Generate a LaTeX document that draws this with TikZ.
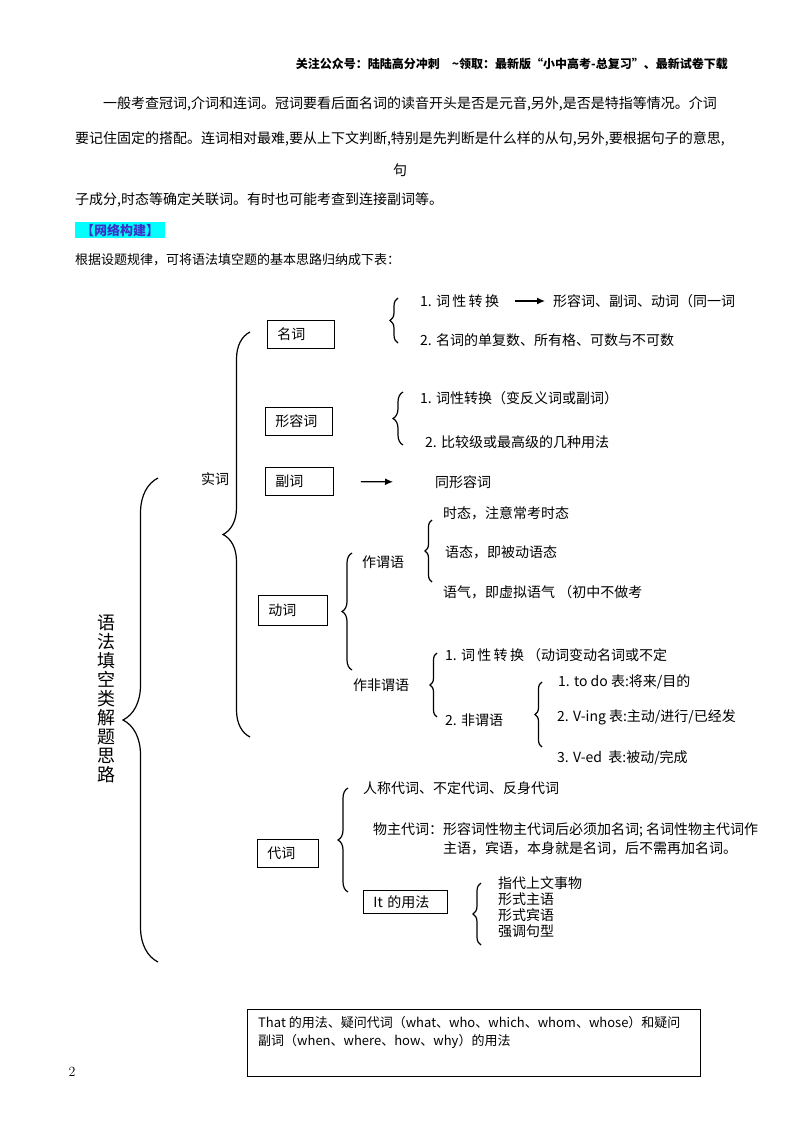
\documentclass[tikz,border=0pt]{standalone}
\usepackage{fontspec}
\usepackage{xcolor}
\newfontfamily\cjk{Noto Sans CJK SC}
\usetikzlibrary{positioning,arrows.meta,decorations.pathreplacing}
\definecolor{netblue}{RGB}{60,50,200}
\definecolor{netcyan}{RGB}{0,255,255}
\tikzset{
  wbox/.style={draw, line width=0.9pt, anchor=north west, inner xsep=10pt,
    minimum height=28pt, align=left},
  brc/.style={decorate, decoration={brace, amplitude=#1}, line width=1.2pt},
  brc/.default=8pt,
  item/.style={anchor=west, inner sep=0pt},
  arr/.style={-{Latex[length=8pt,width=7pt]}, line width=1.2pt},
}

\begin{document}
\begin{tikzpicture}[x=1pt, y=-1pt, font=\cjk\fontsize{14}{17}\selectfont]
\useasboundingbox (0,0) rectangle (800,1132);
% header and text above the chart
\node[item, anchor=east, font=\cjk\bfseries\fontsize{12}{14}\selectfont] (head) at (728,64)
  {关注公众号：陆陆高分冲刺\hspace{12pt}\textasciitilde 领取：最新版“小中高考-总复习”、最新试卷下载};
\node[item] (par1) at (103,104) {一般考查冠词,介词和连词。冠词要看后面名词的读音开头是否是元音,另外,是否是特指等情况。介词};
\node[item] (par2) at (75,139) {要记住固定的搭配。连词相对最难,要从上下文判断,特别是先判断是什么样的从句,另外,要根据句子的意思,};
\node[inner sep=0pt] (par3) at (400,170) {句};
\node[item] (par4) at (75,200) {子成分,时态等确定关联词。有时也可能考查到连接副词等。};
\node[item, fill=netcyan, text=netblue, inner xsep=6pt, minimum height=16pt,
  font=\cjk\bfseries\fontsize{13}{15}\selectfont] (net) at (75,230) {【网络构建】};
\node[item, font=\cjk\fontsize{13}{15}\selectfont] (intro) at (75,260) {根据设题规律，可将语法填空题的基本思路归纳成下表：};

% root
\node[font=\cjk\fontsize{18}{19}\selectfont, align=center] (title) at (106,699) {语\\法\\填\\空\\类\\解\\题\\思\\路};
\draw[brc=35pt] (158,962) -- (158,478);
\draw[brc=27pt] (250,737) -- (250,332);
\node (shici) at (215,479) {实词};

% 名词
\node[wbox, text width=47pt] (mingci) at (267,320) {名词};
\draw[brc] (398,343) -- (398,298);
\node[item] (m1) at (420,301) {1. 词\,性\,转\,换};
\node[item] (m1b) at (553,301) {形容词、副词、动词（同一词};
\draw[arr, shorten <=16pt, shorten >=8pt] (m1) -- (m1b);
\node[item] (m2) at (420,340) {2. 名词的单复数、所有格、可数与不可数};

% 形容词
\node[wbox, text width=47pt] (xingrong) at (265,407) {形容词};
\draw[brc=10pt] (403,445) -- (403,392);
\node[item] (a1) at (420,398) {1. 词性转换（变反义词或副词）};
\node[item] (a2) at (425,442) {2. 比较级或最高级的几种用法};

% 副词
\node[wbox, text width=48pt] (fuci) at (265,467) {副词};
\node[item] (tongxing) at (435,482) {同形容词};
\draw[arr, shorten <=27pt, shorten >=42pt] (fuci) -- (tongxing);

% 动词
\node[wbox, text width=49pt, minimum height=30pt] (dongci) at (258,595) {动词};
\draw[brc=10pt] (352,670) -- (352,553);
\node[item] (weiyu) at (362,562) {作谓语};
\node[item] (feiwei) at (353,685) {作非谓语};
\draw[brc=7pt] (432,582) -- (432,520);
\node[item] (v1) at (443,513) {时态，注意常考时态};
\node[item] (v2) at (445,552) {语态，即被动语态};
\node[item] (v3) at (443,592) {语气，即虚拟语气 （初中不做考};
\draw[brc=7pt] (437,717) -- (437,653);
\node[item] (f1) at (445,655) {1. 词\,性\,转\,换 （动词变动名词或不定};
\node[item] (f2) at (445,720) {2. 非谓语};
\draw[brc=7pt] (542,747) -- (542,682);
\node[item] (g1) at (558,682) {1. to do 表:将来/目的};
\node[item] (g2) at (557,717) {2. V-ing 表:主动/进行/已经发};
\node[item] (g3) at (557,758) {3. V-ed \ 表:被动/完成};

% 代词
\node[wbox, text width=41pt] (daici) at (257,839) {代词};
\draw[brc=10pt] (348,892) -- (348,788);
\node[item] (d1) at (363,788) {人称代词、不定代词、反身代词};
\node[item] (d2) at (373,830) {物主代词：形容词性物主代词后必须加名词; 名词性物主代词作};
\node[item] (d3) at (443,848) {主语，宾语，本身就是名词，后不需再加名词。};
\node[wbox, text width=64pt, minimum height=23pt] (itbox) at (363,890) {It 的用法};
\draw[brc] (481,945) -- (481,883);
\foreach \t [count=\i] in {指代上文事物,形式主语,形式宾语,强调句型}
  \node[item] (it\i) at (498,867+16*\i) {\t};

% box at the bottom
\node[draw, line width=0.9pt, anchor=north west, minimum width=453pt, minimum height=67pt] (that) at (247,1009) {};
\node[anchor=north west, align=left, inner sep=0pt, font=\cjk\fontsize{13}{18}\selectfont] (thattxt)
  at ([xshift=11pt, yshift=-7pt]that.north west)
  {That 的用法、疑问代词（what、who、which、whom、whose）和疑问\\副词（when、where、how、why）的用法};
\node[font=\rmfamily\fontsize{14}{16}\selectfont] (page) at (72,1072) {2};
\end{tikzpicture}
\end{document}
